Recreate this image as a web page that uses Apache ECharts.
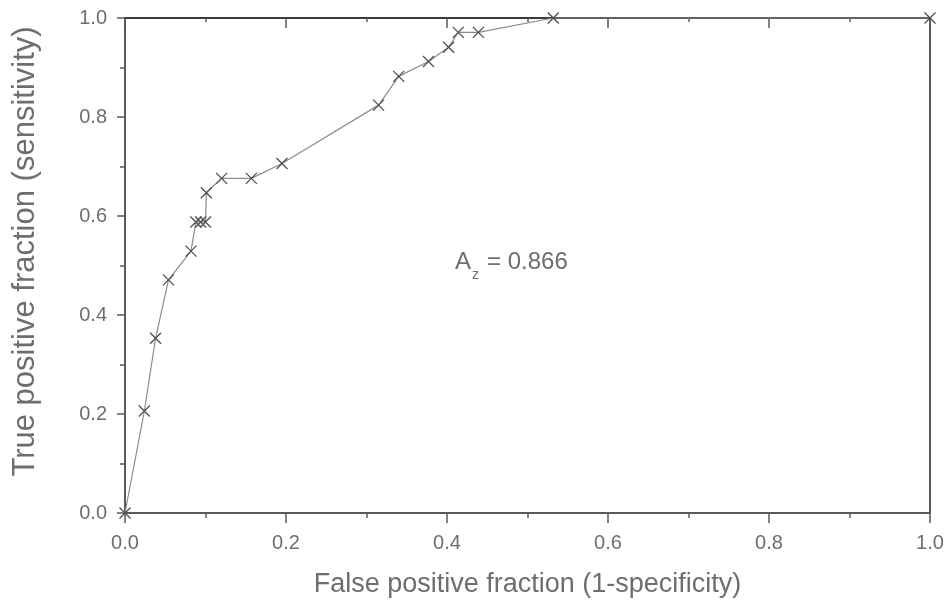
<!DOCTYPE html>
<html>
<head>
<meta charset="utf-8">
<script src="https://cdn.jsdelivr.net/npm/echarts@6/dist/echarts.min.js"></script>
<style>
  html, body { margin: 0; padding: 0; background: #fff; }
  #chart { width: 951px; height: 608px; }
</style>
</head>
<body>
<div id="chart"></div>
<script>
// ROC 曲线数据 (false positive fraction, true positive fraction)
const fpf = [0, 0.024, 0.038, 0.054, 0.082, 0.088, 0.094, 0.100, 0.101, 0.120, 0.157, 0.195, 0.315, 0.340, 0.377, 0.402, 0.414, 0.439, 0.532, 1.0]
const tpf = [0, 0.206, 0.353, 0.471, 0.529, 0.588, 0.588, 0.588, 0.647, 0.676, 0.676, 0.706, 0.824, 0.882, 0.912, 0.941, 0.971, 0.971, 1.0, 1.0]
const tickLabels = ['0.0', '0.2', '0.4', '0.6', '0.8', '1.0']
const azText = '0.866'

const font = 'Liberation Sans, Arial, sans-serif'
const textColor = '#6e6e6e'
const lineColor = '#5a5a5a'

const chart = echarts.init(document.getElementById('chart'))

const fmt = v => tickLabels[Math.round(v * 5)] || ''

const option = {
  animation: false,
  grid: {
    left: 125,
    right: 21,
    top: 18,
    bottom: 95
  },
  xAxis: [
    {
      type: 'value',
      min: 0,
      max: 1,
      interval: 0.2,
      name: 'False positive fraction (1-specificity)',
      nameLocation: 'middle',
      nameGap: 58,
      nameTextStyle: { fontSize: 27, color: textColor, fontFamily: font },
      axisLine: { show: true, onZero: false, lineStyle: { color: lineColor, width: 2 } },
      axisTick: { show: true, length: 10, lineStyle: { color: lineColor, width: 1.5 } },
      minorTick: { show: true, splitNumber: 2, length: 5, lineStyle: { color: lineColor, width: 1.5 } },
      axisLabel: { margin: 20, fontSize: 20, color: textColor, fontFamily: font, formatter: fmt },
      splitLine: { show: false }
    },
    {
      // 顶部边框
      type: 'value',
      position: 'top',
      min: 0,
      max: 1,
      interval: 0.2,
      axisLine: { show: true, onZero: false, lineStyle: { color: '#3a3a3a', width: 2 } },
      axisTick: { show: true, inside: true, length: 10, lineStyle: { color: lineColor, width: 1.5 } },
      minorTick: { show: true, splitNumber: 2, length: 4, lineStyle: { color: lineColor, width: 1.5 } },
      axisLabel: { show: false },
      splitLine: { show: false }
    }
  ],
  yAxis: [
    {
      type: 'value',
      min: 0,
      max: 1,
      interval: 0.2,
      name: 'True positive fraction (sensitivity)',
      nameLocation: 'middle',
      nameGap: 84,
      nameTextStyle: { fontSize: 31, color: textColor, fontFamily: font, padding: [0, 0, 0, 28] },
      axisLine: { show: true, onZero: false, lineStyle: { color: lineColor, width: 2 } },
      axisTick: { show: true, length: 8, lineStyle: { color: lineColor, width: 1.5 } },
      minorTick: { show: true, splitNumber: 2, length: 5, lineStyle: { color: lineColor, width: 1.5 } },
      axisLabel: { margin: 18, fontSize: 20, color: textColor, fontFamily: font, formatter: fmt },
      splitLine: { show: false }
    },
    {
      // 右侧边框
      type: 'value',
      position: 'right',
      min: 0,
      max: 1,
      interval: 0.2,
      axisLine: { show: true, onZero: false, lineStyle: { color: lineColor, width: 2 } },
      axisTick: { show: false },
      axisLabel: { show: false },
      splitLine: { show: false }
    }
  ],
  graphic: [
    {
      type: 'text',
      left: 455,
      top: 250,
      style: { text: 'A', fill: textColor, font: '24px ' + font }
    },
    {
      type: 'text',
      left: 472,
      top: 268,
      style: { text: 'z', fill: textColor, font: '14px ' + font }
    },
    {
      type: 'text',
      left: 487,
      top: 250,
      style: { text: '= ' + azText, fill: textColor, font: '24px ' + font }
    }
  ],
  series: [
    {
      type: 'line',
      data: fpf.map((x, i) => [x, tpf[i]]),
      symbol: 'path://M0,0L10,10M10,0L0,10',
      symbolSize: 11,
      showAllSymbol: true,
      lineStyle: { color: '#8c8c8c', width: 1.2 },
      itemStyle: { color: 'none', borderColor: '#4f4f4f', borderWidth: 1.3 },
      clip: false,
      z: 3
    }
  ]
}

chart.setOption(option)
</script>
</body>
</html>
